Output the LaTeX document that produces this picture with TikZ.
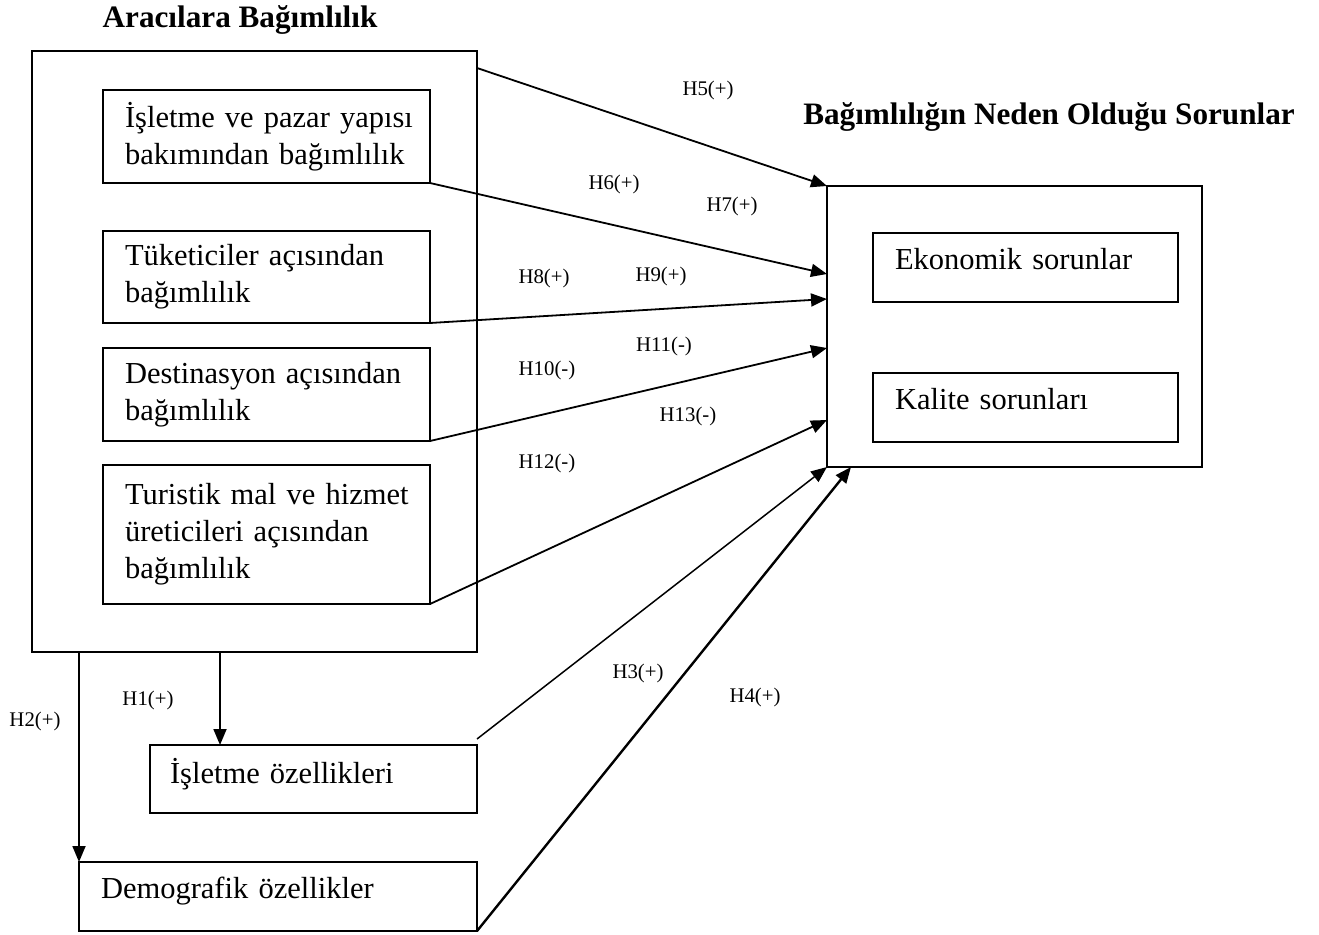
\documentclass[tikz,border=0pt]{standalone}
\usepackage{fontspec}
\setmainfont{Liberation Serif}
\usetikzlibrary{arrows.meta,calc}
\begin{document}
\begin{tikzpicture}[x=1pt,y=-1pt,
  box/.style={draw, line width=1.8pt, outer sep=0pt, inner sep=0pt},
  tbox/.style={box, align=left, inner xsep=22pt, inner ysep=0pt, font=\fontsize{30.5}{37}\selectfont},
  one/.style={text depth=17pt},
  lbl/.style={font=\fontsize{20.8}{24}\selectfont, inner sep=0pt},
  ttl/.style={font=\fontsize{31.2}{36}\selectfont\bfseries, inner sep=0pt},
  arr/.style={line width=1.8pt, -{Triangle[length=16pt,width=13pt]}}]
\useasboundingbox (0,0) rectangle (1319,934);

% titles
\node[ttl] (t1) at (240,20) {Aracılara Bağımlılık};
\node[ttl] (t2) at (1049,117) {Bağımlılığın Neden Olduğu Sorunlar};

% left group
\node[box, minimum width=445pt, minimum height=601pt] (outerL) at (254.5,351.5) {};
\node[tbox, text width=283pt, minimum height=93pt] (b1) at (266.5,136.5)
  {\mbox{İşletme ve pazar yapısı}\\\mbox{bakımından bağımlılık}};
\node[tbox, text width=283pt, minimum height=92pt] (b2) at (266.5,277)
  {\mbox{Tüketiciler açısından}\\bağımlılık};
\node[tbox, text width=283pt, minimum height=93pt] (b3) at (266.5,394.5)
  {\mbox{Destinasyon açısından}\\bağımlılık};
\node[tbox, text width=283pt, minimum height=139pt] (b4) at (266.5,534.5)
  {\mbox{Turistik mal ve hizmet}\\\mbox{üreticileri açısından}\\bağımlılık};

% right group
\node[box, minimum width=375pt, minimum height=281pt] (rightO) at (1014.5,326.5) {};
\node[tbox, one, text width=261pt, minimum height=69pt] (eko) at (1025.5,267.5) {Ekonomik sorunlar};
\node[tbox, one, text width=261pt, minimum height=69pt] (kal) at (1025.5,407.5) {Kalite sorunları};

% bottom boxes
\node[tbox, one, inner xsep=20pt, text width=287pt, minimum height=68pt] (isl) at (313.5,779) {İşletme özellikleri};
\node[tbox, one, text width=354pt, minimum height=69pt] (dem) at (278,896.5) {Demografik özellikler};

% connectors
\draw[arr] ($(outerL.north east)+(0,17)$) -- (rightO.north west);
\draw[arr] (b1.south east) -- ($(rightO.north west)+(0,88)$);
\draw[arr] (b2.south east) -- ($(rightO.north west)+(0,113)$);
\draw[arr] (b3.south east) -- ($(rightO.north west)+(0,162)$);
\draw[arr] (b4.south east) -- ($(rightO.north west)+(0,234)$);
\draw[arr, line width=1.5pt] ($(isl.north east)+(0,-6)$) -- (rightO.south west);
\draw[arr, line width=2.4pt] (dem.south east) -- ($(rightO.south west)+(24,0)$);
\draw[arr] ($(outerL.south west)+(188,0)$) -- ($(isl.north west)+(70,0)$);
\draw[arr] ($(outerL.south west)+(47,0)$) -- (dem.north west);

% labels
\node[lbl] (h5) at (708,90) {H5(+)};
\node[lbl] (h6) at (614,184) {H6(+)};
\node[lbl] (h7) at (732,206) {H7(+)};
\node[lbl] (h8) at (544,278) {H8(+)};
\node[lbl] (h9) at (661,276) {H9(+)};
\node[lbl] (h10) at (547,370) {H10(-)};
\node[lbl] (h11) at (664,346) {H11(-)};
\node[lbl] (h12) at (547,463) {H12(-)};
\node[lbl] (h13) at (688,416) {H13(-)};
\node[lbl] (h3) at (638,673) {H3(+)};
\node[lbl] (h4) at (755,697) {H4(+)};
\node[lbl] (h1) at (148,700) {H1(+)};
\node[lbl] (h2) at (35,721) {H2(+)};
\end{tikzpicture}
\end{document}
